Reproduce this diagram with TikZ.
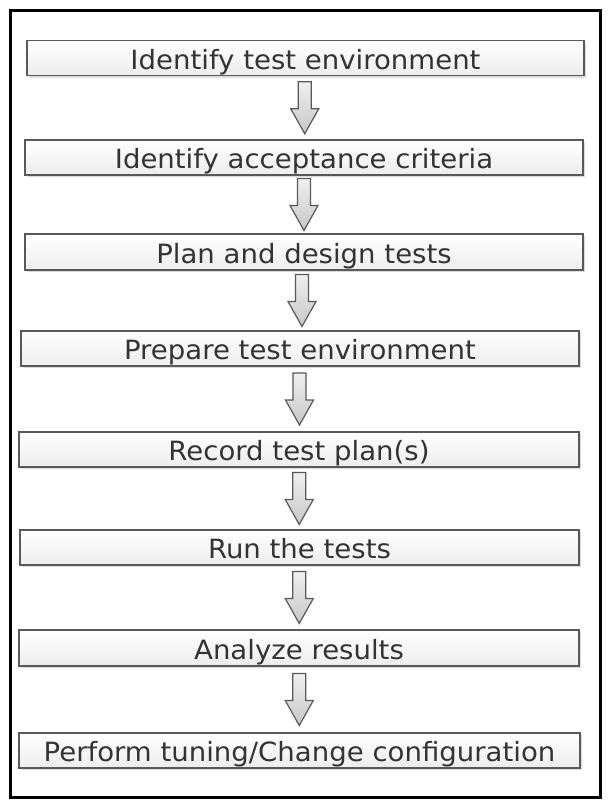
\documentclass[tikz,border=0pt]{standalone}
\usepackage{fontspec}
\setmainfont{DejaVu Sans}[FakeStretch=1.04]
\usetikzlibrary{shadows,calc}
\begin{document}
\begin{tikzpicture}[x=1pt,y=-1pt,
  stepbox/.style={draw=black!65, line width=1.4pt, top color=white, bottom color=black!7,
    inner sep=0pt, text=black!80, font=\fontsize{26.5}{30}\selectfont,
    text height=22.8pt, text depth=0pt,
    drop shadow={shadow xshift=1.5pt, shadow yshift=-2pt, opacity=0.3, fill=black!45}},
  blockarrow/.style={draw=black!65, line width=1.2pt, top color=black!6, bottom color=black!22, line join=miter},
  blockarr/.pic={\path[blockarrow] (-6.5,-26) -- (6.5,-26) -- (6.5,1) -- (14,1) -- (0,26) -- (-14,1) -- (-6.5,1) -- cycle;}]
\useasboundingbox (0,0) rectangle (611,811);
\fill[white] (0,0) rectangle (611,811);
\draw[line width=3pt] (10,10) rectangle (600,797);
\node[stepbox, minimum width=557pt, minimum height=35pt] (b1) at (305.5,58) {Identify test environment};
\node[stepbox, minimum width=558pt, minimum height=35pt] (b2) at (304,157.5) {Identify acceptance criteria};
\node[stepbox, minimum width=558pt, minimum height=36pt] (b3) at (304,252) {Plan and design tests};
\node[stepbox, minimum width=558pt, minimum height=35pt] (b4) at (300,348.5) {Prepare test environment};
\node[stepbox, minimum width=560pt, minimum height=35pt] (b5) at (299,449.5) {Record test plan(s)};
\node[stepbox, minimum width=559pt, minimum height=35pt] (b6) at (299.5,547.5) {Run the tests};
\node[stepbox, minimum width=560pt, minimum height=36pt] (b7) at (299,648) {Analyze results};
\node[stepbox, minimum width=561pt, minimum height=35pt] (b8) at (299.5,750.5) {Perform tuning/Change configuration};
\foreach \a/\b in {b1/b2,b2/b3,b3/b4,b4/b5,b5/b6,b6/b7,b7/b8}
  \path ($(\a.south)!0.5!(\b.north)$) pic {blockarr};
\end{tikzpicture}
\end{document}
